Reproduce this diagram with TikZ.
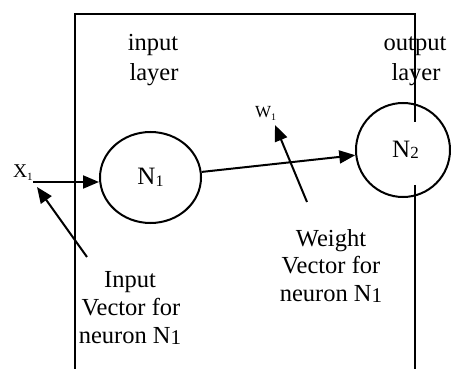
\documentclass[tikz,border=0pt]{standalone}
\usepackage{fontspec}
\setmainfont{Liberation Serif}
\usetikzlibrary{arrows.meta,shapes.geometric}
\newcommand\mysub[3]{{\fontsize{#1}{#1}\selectfont\raisebox{-#2pt}{#3}}}
\begin{document}
\begin{tikzpicture}[x=1pt,y=-1pt, line width=2pt,
  arr/.style={-{Triangle[length=16pt,width=13pt]}},
  lbl/.style={anchor=base, inner sep=0pt, font=\fontsize{24.5}{24.5}\selectfont},
  neuron/.style={draw, inner sep=0pt, font=\fontsize{25}{25}\selectfont}]
\useasboundingbox (0,0) rectangle (451,369);
% box
\coordinate (bl) at (74.5,369);
\coordinate (tl) at (74.5,14);
\coordinate (tr) at (415,14);
\coordinate (rg1) at (415,122);
\coordinate (rg2) at (415,185);
\coordinate (br) at (415,369);
% texts
\node[lbl] (in1) at (153,51) {input};
\node[lbl] (in2) at (154,81) {layer};
\node[lbl] (out1) at (415,51) {output};
\node[lbl] (out2) at (416,81) {layer};
\node[lbl] (iv1) at (130,288) {Input};
\node[lbl] (iv2) at (131,316) {Vector for};
\node[lbl] (iv3) at (130,344) {neuron N\mysub{21}{1}{1}};
\node[lbl] (wv1) at (331,247) {Weight};
\node[lbl] (wv2) at (331,274) {Vector for};
\node[lbl] (wv3) at (331,302) {neuron N\mysub{21}{1}{1}};
\node[anchor=base west, inner sep=0pt, font=\fontsize{19.5}{19.5}\selectfont] (x1) at (12,178) {X\mysub{11}{3}{1}};
\node[anchor=base west, inner sep=0pt, font=\fontsize{17}{17}\selectfont] (w1) at (254,118) {W\mysub{10}{2}{1}};
% neurons
\node[neuron, ellipse, minimum width=101pt, minimum height=91pt] (N1) at (150.5,177.5) {N\mysub{16}{1.5}{1}};
\node[neuron, circle, minimum size=94pt] (N2) at (403,150) {\hspace{5pt}N\mysub{17}{1.5}{2}};
% box lines
\draw (bl) -- (tl) -- (tr) -- (rg1);
\draw (rg2) -- (br);
% arrows
\coordinate (xs) at (33,182);
\draw[arr] (xs) -- ([yshift=-4.5pt]N1.west);
\draw[arr] (N1) -- (N2);
\coordinate (ivs) at (87,257);
\coordinate (ivt) at (37,187);
\draw[arr] (ivs) -- (ivt);
\coordinate (wvs) at (307,202);
\coordinate (wvt) at (275,125);
\draw[arr] (wvs) -- (wvt);
\end{tikzpicture}
\end{document}
